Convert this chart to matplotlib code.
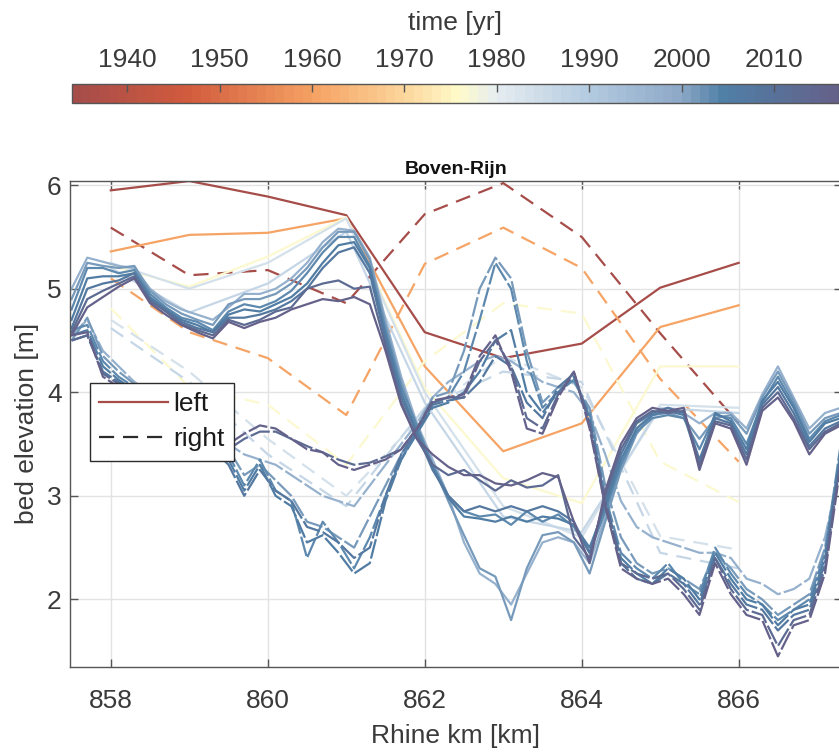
import numpy as np
import matplotlib.pyplot as plt
from matplotlib.colors import LinearSegmentedColormap, Normalize
from matplotlib.cm import ScalarMappable
from matplotlib.lines import Line2D

plt.rcParams['font.family'] = ['Liberation Sans', 'DejaVu Sans']
plt.rcParams['font.size'] = 19
ink = '#3a3a3a'

# colour scale for survey year
year_min, year_max = 1934, 2017
cmap_years = [1934, 1946, 1960, 1970, 1976, 1980, 1990, 2000, 2005, 2017]
cmap_colors = ['#a64d4a', '#d15a3d', '#f5a263', '#fcd69c', '#fffbcb',
               '#e6edf1', '#b4cbe0', '#8ea9c7', '#4f7fa6', '#64618a']

# old surveys, one point per km
km_coarse = [858, 859, 860, 861, 862, 863, 864, 865, 866]
coarse_years = [1934, 1960, 1976, 1983, 1987]
left_1934 = [5.95, 6.04, 5.89, 5.71, 4.58, 4.33, 4.47, 5.01, 5.25]
right_1934 = [5.59, 5.13, 5.18, 4.86, 5.72, 6.02, 5.50, 4.57, 3.70]
left_1960 = [5.36, 5.52, 5.54, 5.68, 4.25, 3.43, 3.70, 4.63, 4.84]
right_1960 = [5.10, 4.58, 4.33, 3.78, 5.24, 5.59, 5.20, 4.13, 3.33]
left_1976 = [5.22, 5.02, 5.31, 5.69, 4.04, 3.17, 2.93, 4.25, 4.25]
right_1976 = [4.81, 4.05, 3.88, 3.30, 4.30, 4.86, 4.76, 3.33, 2.94]
left_1983 = [5.25, 5.00, 5.25, 5.68, 4.00, 2.90, 2.60, 3.88, 3.85]
right_1983 = [4.70, 4.20, 3.55, 3.00, 3.80, 4.35, 4.05, 2.61, 2.48]
left_1987 = [5.20, 4.77, 5.05, 5.55, 3.90, 2.80, 2.65, 3.85, 3.80]
right_1987 = [4.62, 4.10, 3.40, 2.90, 3.85, 4.20, 4.10, 2.45, 2.30]

# recent surveys, every 200 m
km_fine = np.round(np.arange(857.5, 867.31, 0.2), 1)
fine_years = [1997, 2001, 2003, 2005, 2007, 2012, 2016]

left_1997 = [5.00, 5.30, 5.26, 5.22, 5.20, 5.00, 4.88, 4.80, 4.75, 4.70,
             4.82, 4.95, 4.95, 5.00, 5.10, 5.25, 5.45, 5.58, 5.56, 5.30,
             4.70, 4.15, 3.70, 3.35, 3.00, 2.55, 2.25, 2.15, 1.95, 2.25,
             2.55, 2.60, 2.55, 2.35, 2.80, 3.30, 3.65, 3.80, 3.85, 3.80,
             3.70, 3.80, 3.80, 3.65, 3.98, 4.25, 3.95, 3.65, 3.80, 3.85]
left_2001 = [4.90, 5.25, 5.22, 5.20, 5.22, 4.98, 4.85, 4.76, 4.70, 4.65,
             4.85, 4.90, 4.90, 4.95, 5.05, 5.20, 5.40, 5.55, 5.55, 5.28,
             4.65, 4.10, 3.65, 3.30, 2.95, 2.62, 2.30, 2.22, 1.80, 2.30,
             2.62, 2.65, 2.55, 2.25, 2.75, 3.25, 3.60, 3.78, 3.80, 3.75,
             3.55, 3.75, 3.78, 3.60, 3.95, 4.20, 3.92, 3.60, 3.75, 3.80]
left_2003 = [4.80, 5.20, 5.20, 5.15, 5.18, 4.95, 4.82, 4.72, 4.68, 4.60,
             4.78, 4.85, 4.82, 4.88, 4.98, 5.15, 5.35, 5.50, 5.50, 5.22,
             4.60, 4.05, 3.68, 3.30, 3.00, 2.85, 2.80, 2.82, 2.72, 2.85,
             2.75, 2.82, 2.70, 2.45, 2.85, 3.30, 3.62, 3.75, 3.78, 3.75,
             3.45, 3.78, 3.75, 3.50, 3.90, 4.15, 3.88, 3.55, 3.72, 3.78]
left_2005 = [4.70, 5.10, 5.12, 5.12, 5.15, 4.92, 4.80, 4.70, 4.65, 4.58,
             4.75, 4.80, 4.78, 4.85, 4.92, 5.05, 5.25, 5.42, 5.45, 5.20,
             4.55, 4.00, 3.62, 3.28, 2.98, 2.80, 2.78, 2.75, 2.80, 2.75,
             2.80, 2.78, 2.72, 2.50, 2.90, 3.35, 3.65, 3.78, 3.82, 3.78,
             3.30, 3.80, 3.72, 3.45, 3.92, 4.10, 3.85, 3.52, 3.70, 3.75]
left_2007 = [4.62, 5.00, 5.05, 5.08, 5.15, 4.90, 4.80, 4.68, 4.62, 4.58,
             4.72, 4.72, 4.75, 4.80, 4.88, 5.00, 5.20, 5.35, 5.40, 5.15,
             4.50, 3.95, 3.60, 3.25, 3.00, 2.85, 2.90, 2.85, 2.90, 2.85,
             2.90, 2.85, 2.75, 2.45, 2.95, 3.40, 3.70, 3.80, 3.85, 3.80,
             3.35, 3.75, 3.70, 3.40, 3.88, 4.05, 3.80, 3.48, 3.65, 3.72]
left_2012 = [4.58, 4.90, 4.98, 5.05, 5.12, 4.88, 4.78, 4.66, 4.60, 4.55,
             4.70, 4.65, 4.70, 4.78, 4.82, 5.00, 5.05, 5.08, 5.00, 5.02,
             4.45, 3.90, 3.55, 3.30, 3.20, 3.25, 3.15, 3.05, 3.15, 3.08,
             3.10, 3.20, 2.60, 2.40, 3.00, 3.45, 3.72, 3.82, 3.80, 3.82,
             3.30, 3.72, 3.68, 3.35, 3.85, 4.00, 3.75, 3.45, 3.62, 3.70]
left_2016 = [4.55, 4.82, 4.92, 5.02, 5.10, 4.86, 4.75, 4.65, 4.58, 4.52,
             4.68, 4.62, 4.68, 4.72, 4.80, 4.85, 4.90, 4.88, 4.92, 4.85,
             4.40, 3.88, 3.55, 3.40, 3.28, 3.20, 3.20, 3.12, 3.10, 3.15,
             3.22, 3.18, 2.75, 2.35, 3.05, 3.50, 3.75, 3.85, 3.82, 3.85,
             3.25, 3.70, 3.65, 3.30, 3.82, 3.95, 3.72, 3.40, 3.60, 3.68]

right_1997 = [4.55, 4.70, 4.40, 4.25, 4.10, 4.00, 3.90, 3.80, 3.70, 3.60,
              3.50, 3.40, 3.35, 3.30, 3.20, 3.10, 3.00, 2.95, 2.90, 3.10,
              3.30, 3.50, 3.70, 3.95, 4.10, 4.20, 4.30, 4.35, 4.30, 4.20,
              4.10, 4.05, 4.00, 3.80, 3.40, 2.95, 2.70, 2.60, 2.55, 2.50,
              2.45, 2.45, 2.40, 2.20, 2.15, 2.05, 2.10, 2.20, 2.60, 3.30]
right_2001 = [4.50, 4.72, 4.35, 4.20, 4.08, 3.98, 3.88, 3.75, 3.60, 3.50,
              3.45, 3.20, 3.30, 3.15, 3.00, 2.75, 2.70, 2.60, 2.50, 2.80,
              3.10, 3.40, 3.65, 3.95, 4.00, 4.40, 5.00, 5.30, 5.10, 4.40,
              3.90, 4.05, 4.10, 3.85, 3.10, 2.60, 2.35, 2.25, 2.30, 2.20,
              2.10, 2.45, 2.30, 2.10, 2.00, 1.85, 1.95, 2.05, 2.50, 3.40]
right_2003 = [4.60, 4.65, 4.30, 4.15, 4.05, 3.95, 3.85, 3.72, 3.62, 3.45,
              3.40, 3.10, 3.35, 3.05, 2.95, 2.40, 2.75, 2.55, 2.30, 2.60,
              3.00, 3.35, 3.62, 3.90, 3.95, 4.20, 4.70, 5.25, 5.00, 4.30,
              3.85, 4.00, 4.12, 3.80, 3.00, 2.45, 2.30, 2.20, 2.35, 2.15,
              2.05, 2.50, 2.25, 2.05, 1.95, 1.80, 1.90, 2.00, 2.45, 3.50]
right_2005 = [4.55, 4.60, 4.25, 4.12, 4.02, 3.95, 3.82, 3.70, 3.58, 3.42,
              3.35, 3.05, 3.30, 3.00, 2.90, 2.55, 2.62, 2.45, 2.25, 2.35,
              2.95, 3.35, 3.60, 3.85, 3.90, 4.00, 4.20, 4.50, 4.60, 4.00,
              3.80, 4.00, 4.15, 3.75, 2.95, 2.40, 2.25, 2.15, 2.30, 2.20,
              2.00, 2.45, 2.20, 2.00, 1.95, 1.75, 1.90, 1.95, 2.40, 3.45]
right_2007 = [4.50, 4.55, 4.20, 4.10, 4.00, 3.92, 3.80, 3.70, 3.55, 3.45,
              3.30, 3.00, 3.25, 3.05, 2.95, 2.70, 2.65, 2.55, 2.40, 2.50,
              3.00, 3.40, 3.62, 3.88, 3.92, 3.95, 4.10, 4.35, 4.25, 3.90,
              3.75, 4.05, 4.18, 3.70, 2.90, 2.35, 2.20, 2.15, 2.25, 2.15,
              1.95, 2.40, 2.15, 1.95, 1.90, 1.70, 1.85, 1.90, 2.35, 3.40]
right_2012 = [4.50, 4.55, 4.18, 4.08, 3.98, 3.90, 3.80, 3.68, 3.58, 3.50,
              3.45, 3.55, 3.62, 3.62, 3.55, 3.48, 3.42, 3.35, 3.30, 3.32,
              3.38, 3.45, 3.65, 3.90, 3.95, 3.95, 4.30, 4.50, 4.25, 3.75,
              3.65, 3.98, 4.20, 3.70, 2.95, 2.35, 2.25, 2.20, 2.25, 2.10,
              1.90, 2.40, 2.10, 1.90, 1.85, 1.55, 1.80, 1.85, 2.30, 3.35]
right_2016 = [4.55, 4.58, 4.15, 4.05, 3.95, 3.88, 3.78, 3.70, 3.60, 3.52,
              3.50, 3.60, 3.68, 3.65, 3.55, 3.45, 3.42, 3.30, 3.25, 3.30,
              3.35, 3.45, 3.65, 3.92, 3.95, 3.98, 4.35, 4.55, 4.20, 3.65,
              3.60, 3.95, 4.20, 3.65, 2.90, 2.30, 2.20, 2.15, 2.20, 2.05,
              1.85, 2.35, 2.05, 1.85, 1.80, 1.45, 1.75, 1.80, 2.25, 3.30]

coarse_left = [left_1934, left_1960, left_1976, left_1983, left_1987]
coarse_right = [right_1934, right_1960, right_1976, right_1983, right_1987]
fine_left = [left_1997, left_2001, left_2003, left_2005, left_2007, left_2012, left_2016]
fine_right = [right_1997, right_2001, right_2003, right_2005, right_2007, right_2012, right_2016]

anchors = [((y - year_min) / (year_max - year_min), c) for y, c in zip(cmap_years, cmap_colors)]
cmap = LinearSegmentedColormap.from_list('time', anchors, N=year_max - year_min)
norm = Normalize(year_min, year_max)

fig = plt.figure(figsize=(8.39, 7.53), dpi=100)
ax = fig.add_axes([70 / 839, 0.1146, 771.5 / 839, 0.645])

lw = 1.6
dash_sparse = (0, (6.8, 4.0))
dash_dense = (0, (9, 1.4))

for yr, yl, yrr in zip(coarse_years, coarse_left, coarse_right):
    c = cmap(norm(yr))
    ax.plot(km_coarse, yl, color=c, lw=lw, ls='-')
    ax.plot(km_coarse, yrr, color=c, lw=lw, ls=dash_sparse)

for yr, yl, yrr in zip(fine_years, fine_left, fine_right):
    c = cmap(norm(yr))
    ax.plot(km_fine, yl, color=c, lw=lw, ls='-')
    ax.plot(km_fine, yrr, color=c, lw=lw, ls=dash_dense)

ax.set_xlim(857.48, 867.31)
ax.set_ylim(1.35, 6.04)
ax.set_xticks([858, 860, 862, 864, 866])
ax.set_yticks([2, 3, 4, 5, 6])
ax.grid(True, color='#e3e3e3', lw=1)
ax.set_axisbelow(True)
ax.tick_params(direction='in', length=6, width=1, color='#555555', labelcolor=ink,
               top=True, right=True, labelsize=19)
ax.tick_params(axis='x', pad=16)
ax.tick_params(axis='y', pad=6)
for s in ax.spines.values():
    s.set_color('#555555')
    s.set_linewidth(1)
ax.set_xlabel('Rhine km [km]', fontsize=19, color=ink, labelpad=8)
ax.set_ylabel('bed elevation [m]', fontsize=19, color=ink, labelpad=6)
ax.set_title('Boven-Rijn', fontsize=14, fontweight='bold', color='#111111', pad=5)

handles = [Line2D([], [], color=cmap(norm(1934)), lw=lw, ls='-'),
           Line2D([], [], color='#2b2b2b', lw=lw, ls=dash_sparse)]
leg = ax.legend(handles, ['left', 'right'], loc='upper left',
                bbox_to_anchor=(0.026, 0.584), fontsize=19, frameon=True,
                fancybox=False, framealpha=1, edgecolor='#2b2b2b',
                handlelength=2.6, handletextpad=0.2, borderpad=0.35,
                labelspacing=0.42, borderaxespad=0)
leg.get_frame().set_linewidth(1)
for t in leg.get_texts():
    t.set_color('#1a1a1a')

cax = fig.add_axes([72 / 839, 0.8632, 766.5 / 839, 0.0252])
cb = fig.colorbar(ScalarMappable(norm=norm, cmap=cmap), cax=cax, orientation='horizontal')
cb.set_ticks([1940, 1950, 1960, 1970, 1980, 1990, 2000, 2010])
cax.xaxis.set_ticks_position('top')
cax.xaxis.set_label_position('top')
cax.tick_params(direction='in', length=6, width=1, color='#555555',
                labelcolor=ink, labelsize=19, pad=8.5)
cb.outline.set_edgecolor('#555555')
cb.outline.set_linewidth(1)
cb.set_label('time [yr]', fontsize=19, color=ink, labelpad=13)

fig.savefig('out.png', dpi=100)
